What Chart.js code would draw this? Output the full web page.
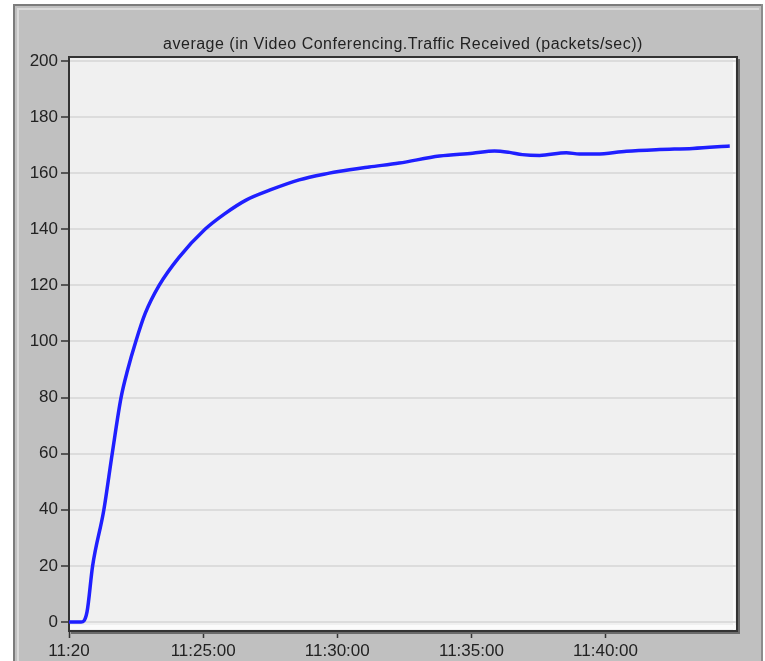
<!DOCTYPE html>
<html>
<head>
<meta charset="utf-8">
<script src="https://cdn.jsdelivr.net/npm/chart.js@4/dist/chart.umd.min.js"></script>
<style>
  html, body { margin: 0; padding: 0; background: #fff; }
  #wrap { width: 765px; height: 661px; }
</style>
</head>
<body>
<div id="wrap"><canvas id="mycanvas" width="765" height="661"></canvas></div>
<script>
// minutes after 11:20:00
var minutes = [0, 0.45, 0.67, 0.88, 1.3, 1.61, 1.94, 2.19, 2.49, 2.84, 3.36, 4.1, 5.07, 5.8, 6.6,
  7.5, 8.58, 9.7, 10.04, 11.19, 12.31, 13.81, 15.04, 15.86, 16.42, 16.9, 17.54, 18.54,
  19.03, 19.66, 20.78, 22.01, 23.25, 24.63];
var packets = [0, 0, 3.5, 20, 40, 60, 80, 90, 100, 110, 120, 130, 140, 145.5, 150.4,
  154, 157.6, 160, 160.6, 162.2, 163.6, 166.1, 167.1, 167.9, 167.4, 166.6, 166.3, 167.3,
  166.8, 166.8, 167.8, 168.4, 168.8, 169.7];

var xTicks = [0, 5, 10, 15, 20];
var xLabels = ['11:20', '11:25:00', '11:30:00', '11:35:00', '11:40:00'];
var yTicks = [0, 20, 40, 60, 80, 100, 120, 140, 160, 180, 200];
var title = 'average (in Video Conferencing.Traffic Received (packets/sec))';

var pts = [];
for (var i = 0; i < minutes.length; i++) {
  pts.push({x: minutes[i], y: packets[i]});
}

var frame = {
  id: 'frame',
  beforeDraw: function(chart) {
    var c = chart.ctx, a = chart.chartArea;
    c.save();
    c.fillStyle = '#ffffff';
    c.fillRect(0, 0, chart.width, chart.height);
    // gray panel
    c.fillStyle = '#c0c0c0';
    c.fillRect(13, 4, 750, 661);
    c.fillStyle = '#7c7c7c';
    c.fillRect(13, 4, 750, 2);
    c.fillRect(13, 4, 2, 661);
    c.fillStyle = '#8c8c8c';
    c.fillRect(761, 4, 2, 661);
    c.fillStyle = '#dadada';
    c.fillRect(17, 8, 742, 2);
    c.fillRect(17, 8, 2, 661);
    // plot background
    c.fillStyle = '#f0f0f0';
    c.fillRect(a.left, a.top, a.right - a.left, a.bottom - a.top);
    c.fillStyle = '#fbfbfb';
    c.fillRect(a.left, a.bottom - 6, a.right - a.left, 4);
    c.fillRect(a.right - 4, a.top, 2, a.bottom - a.top);
    // title
    c.fillStyle = '#222';
    c.font = '16px "Liberation Sans", Arial, sans-serif';
    c.letterSpacing = '0.5px';
    c.textAlign = 'center';
    c.textBaseline = 'middle';
    c.fillText(title, (a.left + a.right) / 2, 45);
    c.restore();
  },
  afterDraw: function(chart) {
    var c = chart.ctx, a = chart.chartArea;
    c.save();
    c.fillStyle = '#333';
    c.fillRect(a.left - 1, a.top - 1, a.right - a.left + 1, 2);
    c.fillRect(a.right - 1, a.top - 1, 2, a.bottom - a.top + 2);
    c.fillStyle = '#6a6a6a';
    c.fillRect(a.right + 1, a.top + 2, 2, a.bottom - a.top + 1);
    c.fillRect(a.left + 2, a.bottom + 1, a.right - a.left + 1, 2);
    c.restore();
  }
};

var ctx = document.getElementById('mycanvas');

var LineGraph = new Chart(ctx, {
  type: 'line',
  data: {
    datasets: [{
      label: 'average',
      data: pts,
      borderColor: '#1f1fff',
      backgroundColor: '#1f1fff',
      borderWidth: 3.5,
      pointRadius: 0,
      fill: false,
      cubicInterpolationMode: 'monotone'
    }]
  },
  options: {
    responsive: false,
    animation: false,
    layout: { padding: { left: 0, right: 28, top: 57, bottom: 0 } },
    plugins: {
      legend: { display: false },
      title: { display: false },
      tooltip: { enabled: false }
    },
    scales: {
      x: {
        type: 'linear',
        min: 0,
        max: 24.9,
        afterBuildTicks: function(scale) {
          scale.ticks = xTicks.map(function(v) { return {value: v}; });
        },
        afterFit: function(scale) { scale.height = 30; },
        grid: {
          drawOnChartArea: false,
          drawTicks: true,
          tickLength: 7,
          tickColor: '#333',
          tickWidth: 1.5
        },
        border: { display: true, color: '#333', width: 2 },
        ticks: {
          autoSkip: false,
          maxRotation: 0,
          padding: 3,
          color: '#222',
          font: { family: '"Liberation Sans", Arial, sans-serif', size: 17 },
          callback: function(v) {
            var k = xTicks.indexOf(v);
            return k >= 0 ? xLabels[k] : '';
          }
        }
      },
      y: {
        type: 'linear',
        min: -3.2,
        max: 201.4,
        afterBuildTicks: function(scale) {
          scale.ticks = yTicks.map(function(v) { return {value: v}; });
        },
        afterFit: function(scale) { scale.width = 69; },
        grid: {
          color: '#dcdcdc',
          lineWidth: 2,
          drawTicks: true,
          tickLength: 8,
          tickColor: '#333',
          tickWidth: 1.5
        },
        border: { display: true, color: '#333', width: 2 },
        ticks: {
          padding: 3,
          color: '#222',
          font: { family: '"Liberation Sans", Arial, sans-serif', size: 17 }
        }
      }
    }
  },
  plugins: [frame]
});
</script>
</body>
</html>
